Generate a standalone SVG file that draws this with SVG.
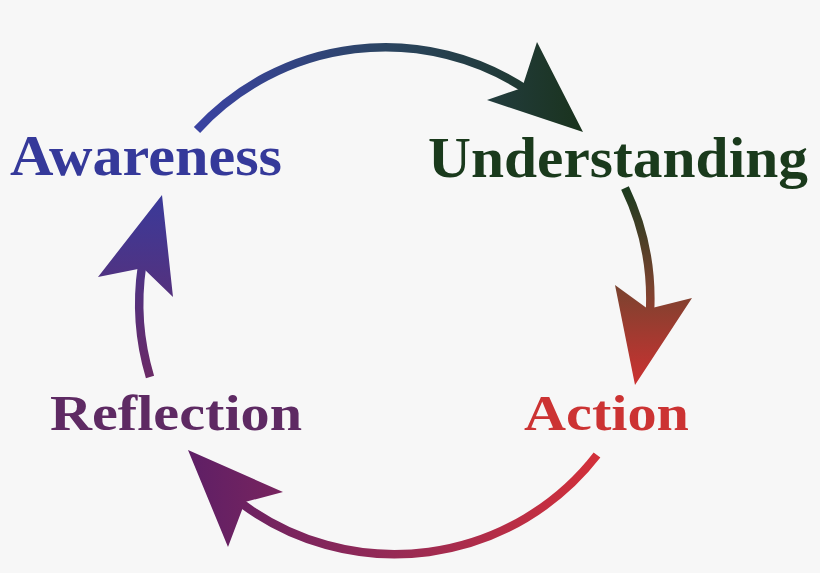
<svg xmlns="http://www.w3.org/2000/svg" width="820" height="573" viewBox="0 0 820 573">
  <defs>
    <linearGradient id="gTop" gradientUnits="userSpaceOnUse" x1="197" y1="0" x2="583" y2="0">
      <stop offset="0" stop-color="#3a43a2"/>
      <stop offset="0.5" stop-color="#2b4560"/>
      <stop offset="1" stop-color="#1a331d"/>
    </linearGradient>
    <linearGradient id="gRight" gradientUnits="userSpaceOnUse" x1="0" y1="188" x2="0" y2="385">
      <stop offset="0" stop-color="#1b3a1e"/>
      <stop offset="0.5" stop-color="#7a432f"/>
      <stop offset="1" stop-color="#cc3131"/>
    </linearGradient>
    <linearGradient id="gBottom" gradientUnits="userSpaceOnUse" x1="597" y1="0" x2="188" y2="0">
      <stop offset="0" stop-color="#d2303a"/>
      <stop offset="0.5" stop-color="#962a55"/>
      <stop offset="1" stop-color="#5e1f66"/>
    </linearGradient>
    <linearGradient id="gLeft" gradientUnits="userSpaceOnUse" x1="0" y1="377" x2="0" y2="195">
      <stop offset="0" stop-color="#6a2a66"/>
      <stop offset="1" stop-color="#3a3a9a"/>
    </linearGradient>
  </defs>
  <style>
    .shaft { fill: none; stroke-width: 8.5; }
    .label { font-family: "Liberation Serif", "Times New Roman", serif; font-weight: bold; }
  </style>
  <rect width="820" height="573" fill="#f7f7f7"/>

  <g id="connectors">
    <g id="arrow-awareness-understanding">
      <path class="shaft" stroke="url(#gTop)" d="M197,130 A256,256 0 0 1 527,90"/>
      <polygon fill="url(#gTop)" points="583,132 537,42 522,88 487,100"/>
    </g>
    <g id="arrow-understanding-action">
      <path class="shaft" stroke="url(#gRight)" d="M625,188 A256,256 0 0 1 650,312"/>
      <polygon fill="url(#gRight)" points="635,385 615,285 648,309 692,298"/>
    </g>
    <g id="arrow-action-reflection">
      <path class="shaft" stroke="url(#gBottom)" d="M597,455 A256,256 0 0 1 241,503"/>
      <polygon fill="url(#gBottom)" points="188,450 283,492 245,502 228,547"/>
    </g>
    <g id="arrow-reflection-awareness">
      <path class="shaft" stroke="url(#gLeft)" d="M150,377 A256,256 0 0 1 142,266"/>
      <polygon fill="url(#gLeft)" points="162,195 173,297 143,268 98,277"/>
    </g>
  </g>

  <g id="node-awareness">
    <text class="label" x="10" y="175" font-size="56" fill="#35399a" textLength="272" lengthAdjust="spacingAndGlyphs">Awareness</text>
  </g>
  <g id="node-understanding">
    <text class="label" x="428" y="177" font-size="57" fill="#1a3a1c" textLength="380" lengthAdjust="spacingAndGlyphs">Understanding</text>
  </g>
  <g id="node-action">
    <text class="label" x="524" y="430" font-size="51" fill="#cc3333" textLength="165" lengthAdjust="spacingAndGlyphs">Action</text>
  </g>
  <g id="node-reflection">
    <text class="label" x="50" y="430" font-size="51" fill="#5e2a63" textLength="252" lengthAdjust="spacingAndGlyphs">Reflection</text>
  </g>
</svg>
